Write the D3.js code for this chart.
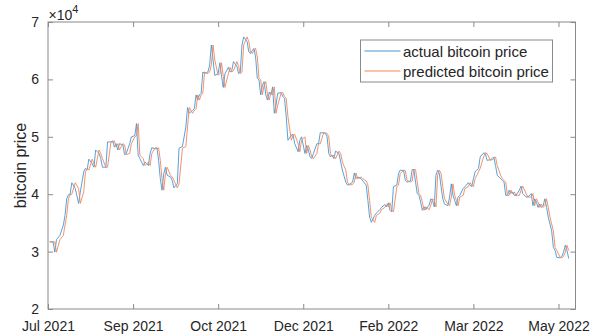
<!DOCTYPE html>
<html>
<head>
<meta charset="utf-8">
<script src="https://cdn.jsdelivr.net/npm/d3@7"></script>
<style>
  html, body { margin: 0; padding: 0; background: #fff; }
  svg { display: block; font-family: "Liberation Sans", Arial, Helvetica, sans-serif; }
</style>
</head>
<body>
<svg id="chart" width="607" height="335"></svg>
<script>
// Day index (0 = 1 Jul 2021) of each sample
const days = [
  1, 3, 4, 5, 7, 9, 10, 11, 12, 13, 14, 16, 18, 19, 21, 22, 23, 24, 26, 27,
  28, 30, 31, 32, 34, 35, 37, 38, 39, 40, 41, 42, 44, 45, 46, 48, 49, 51, 52, 53,
  54, 56, 57, 59, 60, 61, 63, 64, 65, 66, 67, 68, 69, 70, 72, 73, 74, 76, 77, 79,
  81, 82, 83, 85, 86, 87, 88, 89, 90, 91, 92, 94, 95, 96, 97, 98, 100, 101, 102, 103,
  104, 106, 107, 108, 109, 111, 112, 113, 114, 115, 117, 118, 119, 120, 121, 122, 123, 124, 125, 126,
  127, 128, 129, 130, 131, 132, 133, 134, 135, 137, 138, 139, 140, 141, 143, 144, 145, 147, 148, 149,
  151, 152, 153, 154, 155, 156, 158, 159, 160, 162, 163, 164, 165, 166, 167, 168, 169, 171, 172, 173,
  175, 176, 177, 179, 180, 181, 182, 184, 185, 187, 188, 189, 190, 192, 193, 195, 196, 198, 199, 200,
  201, 202, 203, 205, 206, 207, 209, 210, 211, 213, 214, 215, 216, 217, 218, 219, 220, 221, 222, 224,
  225, 226, 227, 228, 229, 230, 231, 232, 233, 235, 236, 237, 238, 239, 240, 241, 242, 244, 245, 247,
  248, 249, 250, 251, 253, 254, 256, 257, 258, 260, 261, 262, 263, 264, 266, 267, 268, 269, 270, 271,
  272, 273, 274, 275, 277, 278, 279, 281, 282, 284, 285, 286, 287, 288, 289, 290, 291, 292, 293, 294,
  295, 296, 297, 298, 299, 301, 302, 303, 304, 305, 306
];

// Closing price, in units of 10^4 USD
const actualPrice = [
  3.17, 3.17, 2.99, 3.21, 3.28, 3.46, 3.63, 3.92, 3.99, 4.00, 4.20, 4.10, 3.84, 4.04, 4.39, 4.45, 4.42, 4.61, 4.53, 4.47,
  4.77, 4.71, 4.62, 4.47, 4.47, 4.91, 4.91, 4.93, 4.82, 4.88, 4.77, 4.88, 4.86, 4.69, 4.71, 4.88, 5.00, 5.02, 5.23, 4.68,
  4.62, 4.50, 4.56, 4.50, 4.71, 4.81, 4.79, 4.81, 4.59, 4.27, 4.07, 4.35, 4.47, 4.33, 4.30, 4.24, 4.11, 4.18, 4.80, 4.83,
  5.17, 5.51, 5.41, 5.46, 5.49, 5.73, 5.64, 5.73, 5.76, 6.13, 6.10, 6.13, 6.25, 6.60, 6.34, 6.07, 6.10, 6.29, 6.05, 5.86,
  6.10, 6.21, 6.13, 6.15, 6.31, 6.23, 6.10, 6.13, 6.60, 6.74, 6.66, 6.48, 6.45, 6.50, 6.54, 6.39, 6.02, 5.99, 5.73, 5.90,
  5.96, 5.73, 5.64, 5.78, 5.73, 5.87, 5.41, 5.55, 5.76, 5.77, 5.70, 5.67, 5.35, 4.94, 5.03, 5.04, 4.88, 4.74, 4.94, 5.00,
  4.71, 4.85, 4.77, 4.65, 4.62, 4.71, 4.88, 4.88, 5.07, 5.07, 5.06, 5.00, 4.71, 4.65, 4.68, 4.62, 4.75, 4.71, 4.56, 4.42,
  4.21, 4.16, 4.17, 4.21, 4.37, 4.27, 4.30, 4.27, 4.23, 4.16, 3.89, 3.60, 3.51, 3.63, 3.67, 3.73, 3.77, 3.82, 3.78, 3.85,
  3.72, 3.69, 4.13, 4.16, 4.36, 4.42, 4.41, 4.24, 4.21, 4.23, 4.43, 4.43, 4.21, 4.01, 3.98, 3.86, 3.72, 3.78, 3.73, 3.81,
  3.92, 3.89, 3.78, 4.33, 4.42, 4.36, 4.13, 3.92, 3.83, 3.80, 3.95, 4.18, 3.98, 3.89, 3.80, 3.95, 3.98, 4.10, 4.13, 4.20,
  4.16, 4.13, 4.27, 4.39, 4.45, 4.65, 4.72, 4.71, 4.59, 4.60, 4.62, 4.65, 4.50, 4.33, 4.27, 4.24, 4.21, 3.98, 3.98, 4.07,
  4.01, 4.04, 3.98, 3.98, 4.07, 4.14, 4.01, 3.95, 3.95, 4.01, 3.80, 3.92, 3.86, 3.77, 3.83, 3.77, 3.80, 3.92, 3.77, 3.60,
  3.48, 3.36, 3.07, 3.02, 2.90, 2.89, 2.92, 2.99, 3.11, 3.02, 2.88
];

// Model output for the same days, in units of 10^4 USD
const predictedPrice = [
  3.17, 3.17, 3.17, 2.99, 3.21, 3.28, 3.46, 3.63, 3.92, 3.99, 4.00, 4.20, 4.10, 3.84, 4.04, 4.39, 4.45, 4.42, 4.61, 4.53,
  4.47, 4.77, 4.71, 4.62, 4.47, 4.47, 4.91, 4.91, 4.93, 4.82, 4.88, 4.77, 4.88, 4.86, 4.69, 4.71, 4.88, 5.00, 5.02, 5.23,
  4.68, 4.62, 4.50, 4.56, 4.50, 4.71, 4.81, 4.79, 4.81, 4.59, 4.27, 4.07, 4.35, 4.47, 4.33, 4.30, 4.24, 4.11, 4.18, 4.80,
  4.83, 5.17, 5.51, 5.41, 5.46, 5.49, 5.73, 5.64, 5.73, 5.76, 6.13, 6.10, 6.13, 6.25, 6.60, 6.34, 6.07, 6.10, 6.29, 6.05,
  5.86, 6.10, 6.21, 6.13, 6.15, 6.31, 6.23, 6.10, 6.13, 6.60, 6.74, 6.66, 6.48, 6.45, 6.50, 6.54, 6.39, 6.02, 5.99, 5.73,
  5.90, 5.96, 5.73, 5.64, 5.78, 5.73, 5.87, 5.41, 5.55, 5.76, 5.77, 5.70, 5.67, 5.35, 4.94, 5.03, 5.04, 4.88, 4.74, 4.94,
  5.00, 4.71, 4.85, 4.77, 4.65, 4.62, 4.71, 4.88, 4.88, 5.07, 5.07, 5.06, 5.00, 4.71, 4.65, 4.68, 4.62, 4.75, 4.71, 4.56,
  4.42, 4.21, 4.16, 4.17, 4.21, 4.37, 4.27, 4.30, 4.27, 4.23, 4.16, 3.89, 3.60, 3.51, 3.63, 3.67, 3.73, 3.77, 3.82, 3.78,
  3.85, 3.72, 3.69, 4.13, 4.16, 4.36, 4.42, 4.41, 4.24, 4.21, 4.23, 4.43, 4.43, 4.21, 4.01, 3.98, 3.86, 3.72, 3.78, 3.73,
  3.81, 3.92, 3.89, 3.78, 4.33, 4.42, 4.36, 4.13, 3.92, 3.83, 3.80, 3.95, 4.18, 3.98, 3.89, 3.80, 3.95, 3.98, 4.10, 4.13,
  4.20, 4.16, 4.13, 4.27, 4.39, 4.45, 4.65, 4.72, 4.71, 4.59, 4.60, 4.62, 4.65, 4.50, 4.33, 4.27, 4.24, 4.21, 3.98, 3.98,
  4.07, 4.01, 4.04, 3.98, 3.98, 4.07, 4.14, 4.01, 3.95, 3.95, 4.01, 3.80, 3.92, 3.86, 3.77, 3.83, 3.77, 3.80, 3.92, 3.77,
  3.60, 3.48, 3.36, 3.07, 3.02, 2.90, 2.89, 2.92, 2.99, 3.11, 3.02
];

// Axis ticks
const xTickDays = [0, 50, 100, 150, 200, 250, 300];
const xTickLabels = ["Jul 2021", "Sep 2021", "Oct 2021", "Dec 2021", "Feb 2022", "Mar 2022", "May 2022"];
const yTicks = [2, 3, 4, 5, 6, 7];

const seriesNames = ["actual bitcoin price", "predicted bitcoin price"];
const seriesColors = ["#4596d6", "#ee875c"];

const svg = d3.select("#chart");
const box = { left: 48, right: 575.5, top: 22, bottom: 309 };

const x = d3.scaleLinear().domain([0, 310]).range([box.left, box.right]);
const y = d3.scaleLinear().domain([2, 7]).range([box.bottom, box.top]);

const axisColor = "#8a8a8a";
const textColor = "#262626";
const tickLen = 5;

// Series lines
const line = d3.line().x(d => x(d[0])).y(d => y(d[1]));
const series = [
  days.map((d, i) => [d, actualPrice[i]]),
  days.map((d, i) => [d, predictedPrice[i]])
];
svg.append("g")
  .selectAll("path")
  .data(series)
  .join("path")
  .attr("d", line)
  .attr("fill", "none")
  .attr("stroke", (d, i) => seriesColors[i])
  .attr("stroke-width", 0.9)
  .attr("stroke-linejoin", "round");

// Axes: ticks point inward on all four sides
function styleAxis(g) {
  g.select(".domain").remove();
  g.selectAll(".tick line").attr("stroke", axisColor);
  g.selectAll(".tick text")
    .attr("fill", textColor)
    .style("font-size", "14px")
    .style("font-family", "'Liberation Sans', Arial, sans-serif");
}

svg.append("g")
  .attr("transform", `translate(0,${box.bottom})`)
  .call(d3.axisBottom(x).tickValues(xTickDays)
    .tickFormat((d, i) => xTickLabels[i]).tickSizeInner(-tickLen).tickPadding(12))
  .call(styleAxis);

svg.append("g")
  .attr("transform", `translate(0,${box.top})`)
  .call(d3.axisTop(x).tickValues(xTickDays).tickFormat("").tickSizeInner(-tickLen))
  .call(styleAxis);

svg.append("g")
  .attr("transform", `translate(${box.left},0)`)
  .call(d3.axisLeft(y).tickValues(yTicks).tickFormat(d3.format("d"))
    .tickSizeInner(-tickLen).tickPadding(9))
  .call(styleAxis);

svg.append("g")
  .attr("transform", `translate(${box.right},0)`)
  .call(d3.axisRight(y).tickValues(yTicks).tickFormat("").tickSizeInner(-tickLen))
  .call(styleAxis);

// Plot box
svg.append("rect")
  .attr("x", box.left).attr("y", box.top)
  .attr("width", box.right - box.left).attr("height", box.bottom - box.top)
  .attr("fill", "none").attr("stroke", axisColor).attr("stroke-width", 1);

// Exponent label
const expo = svg.append("text")
  .attr("x", box.left + 0.5).attr("y", 19.5)
  .attr("fill", textColor)
  .style("font-size", "14px");
expo.append("tspan").text("\u00d710");
expo.append("tspan").attr("dy", -7).style("font-size", "11px").text("4");

// Y axis title
svg.append("text")
  .attr("transform", `translate(26,${(box.top + box.bottom) / 2}) rotate(-90)`)
  .attr("text-anchor", "middle")
  .attr("fill", textColor)
  .style("font-size", "16px")
  .text("bitcoin price");

// Legend
const legend = svg.append("g").attr("transform", "translate(360.5,40)");
legend.append("rect")
  .attr("width", 192).attr("height", 42)
  .attr("fill", "#fff").attr("stroke", axisColor).attr("stroke-width", 1);
const items = legend.selectAll("g.item")
  .data(seriesNames)
  .join("g")
  .attr("class", "item")
  .attr("transform", (d, i) => `translate(0,${11 + i * 20})`);
items.append("line")
  .attr("x1", 4).attr("x2", 40)
  .attr("stroke", (d, i) => seriesColors[i]).attr("stroke-width", 1);
items.append("text")
  .attr("x", 42.5).attr("y", 5.5)
  .attr("fill", textColor)
  .style("font-size", "15px")
  .text(d => d);
</script>
</body>
</html>
